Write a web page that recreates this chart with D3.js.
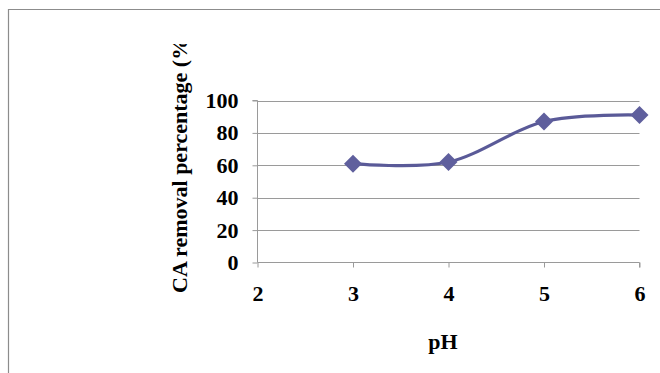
<!DOCTYPE html>
<html>
<head>
<meta charset="utf-8">
<script src="https://cdn.jsdelivr.net/npm/d3@7"></script>
<style>
  html, body { margin: 0; padding: 0; background: #fff; }
  svg { display: block; }
  text { font-family: "Liberation Serif", "Times New Roman", serif; font-weight: bold; fill: #000; }
</style>
</head>
<body>
<svg id="chart" width="660" height="373"></svg>
<script>
// pH vs. CA removal
const phValues = [3, 4, 5, 6];
const removalPct = [61, 62, 87, 91];
const xTicks = [2, 3, 4, 5, 6];
const yTicks = [0, 20, 40, 60, 80, 100];

const svg = d3.select("#chart");
const W = 660, H = 373;
const FS = "22px";

// outer chart frame (top and left edges)
svg.append("path")
  .attr("d", `M8.5,${H} V9.5 H${W}`)
  .attr("fill", "none")
  .attr("stroke", "#8c8c8c")
  .attr("stroke-width", 1.2);

const x = d3.scaleLinear().domain([2, 6]).range([257.5, 639.5]);
const y = d3.scaleLinear().domain([0, 100]).range([262.5, 100.5]);

// horizontal gridlines
svg.append("g")
  .selectAll("line")
  .data(yTicks.filter(d => d > 0))
  .join("line")
  .attr("x1", x(2)).attr("x2", x(6))
  .attr("y1", d => Math.round(y(d)) + 0.5)
  .attr("y2", d => Math.round(y(d)) + 0.5)
  .attr("stroke", "#9a9a9a")
  .attr("stroke-width", 1);

// y axis
const yAxis = svg.append("g")
  .attr("transform", `translate(${x(2)},0)`)
  .call(d3.axisLeft(y).tickValues(yTicks).tickSize(5).tickPadding(14).tickFormat(d3.format("d")));
yAxis.selectAll("line, path").attr("stroke", "#9a9a9a");
yAxis.select(".domain").attr("d", `M-5,${y(100)}H0V${y(0)}`);
yAxis.selectAll("text")
  .style("font-size", FS)
  .style("font-family", "'Liberation Serif', serif")
  .style("font-weight", "bold")
  .attr("fill", "#000");

// x axis
const xAxis = svg.append("g")
  .attr("transform", `translate(0,${y(0)})`)
  .call(d3.axisBottom(x).tickValues(xTicks).tickSize(5).tickPadding(18).tickFormat(d3.format("d")));
xAxis.selectAll("line, path").attr("stroke", "#9a9a9a");
xAxis.select(".domain").attr("d", `M${x(2)},0H${x(6)}V5`);
xAxis.selectAll("text")
  .style("font-size", FS)
  .style("font-family", "'Liberation Serif', serif")
  .style("font-weight", "bold")
  .attr("fill", "#000");

// smoothed data line
const pts = phValues.map((p, i) => [x(p), y(removalPct[i])]);
svg.append("path")
  .attr("d", d3.line().curve(d3.curveCardinal.tension(0))(pts))
  .attr("fill", "none")
  .attr("stroke", "#5a5a98")
  .attr("stroke-width", 3.2);

// diamond markers
svg.append("g")
  .selectAll("path")
  .data(pts)
  .join("path")
  .attr("transform", d => `translate(${d[0]},${d[1]})`)
  .attr("d", "M0,-9L9,0L0,9L-9,0Z")
  .attr("fill", "#5f5f9d");

// axis titles (the vertical title is cut off at the top)
svg.append("defs").append("clipPath").attr("id", "titleClip")
  .append("rect").attr("x", 0).attr("y", 44).attr("width", 240).attr("height", 300);

svg.append("g")
  .attr("clip-path", "url(#titleClip)")
  .append("text")
  .attr("transform", "translate(187,293) rotate(-90)")
  .attr("text-anchor", "start")
  .style("font-size", FS)
  .text("CA removal percentage (%)");

svg.append("text")
  .attr("x", 443).attr("y", 349)
  .attr("text-anchor", "middle")
  .style("font-size", FS)
  .text("pH");
</script>
</body>
</html>
